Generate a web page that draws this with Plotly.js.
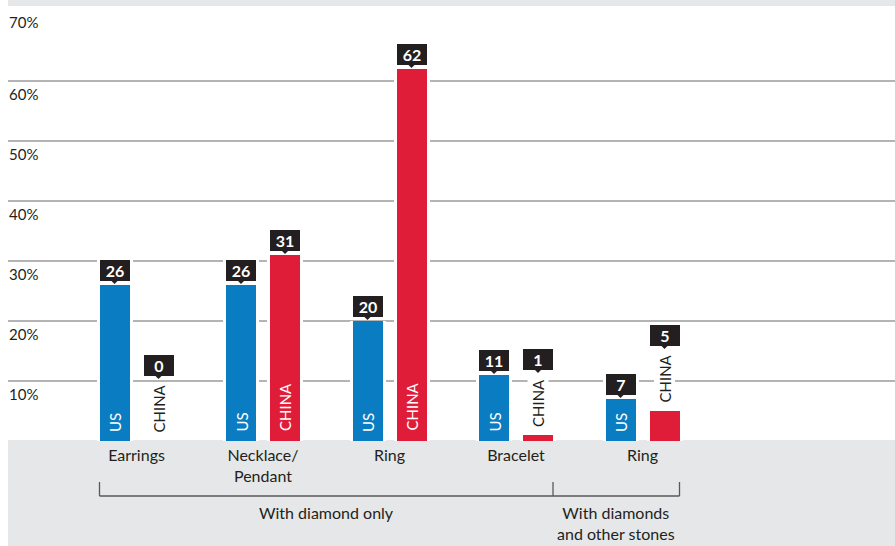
<!DOCTYPE html>
<html>
<head>
<meta charset="utf-8">
<script src="https://cdn.plot.ly/plotly-3.0.1.min.js"></script>
<style>
  html, body { margin: 0; padding: 0; background: #ffffff; }
  #chart { width: 895px; height: 546px; }
</style>
</head>
<body>
<div id="chart"></div>
<script>
// ---- data ----
const categories = ['Earrings', 'Necklace/<br>Pendant', 'Ring', 'Bracelet', 'Ring'];
const usValues = [26, 26, 20, 11, 7];
const chinaValues = [0, 31, 62, 1, 5];
const seriesNames = ['US', 'CHINA'];
const yTickValues = [10, 20, 30, 40, 50, 60, 70];
const yTickLabels = ['10%', '20%', '30%', '40%', '50%', '60%', '70%'];
const groupLabels = ['With diamond only', 'With diamonds<br>and other stones'];
const groupFirst = [0, 4];
const groupLast = [3, 4];

// ---- style / geometry ----
const FONT = 'Lato, "Open Sans", sans-serif';
const DARK = '#231f20';
const BLUE = '#0a7cc2';
const RED = '#e01d38';
const GRAY = '#e6e7e8';
const W = 895, H = 546;
const ML = 8, MT = 0, MB = 105;
const plotH = H - MT - MB;            // 441
const pxPerCat = 126.5;
const barW = 30 / pxPerCat;
const usOff = -37 / pxPerCat;
const cnOff = 7 / pxPerCat;
const gap = 3 / pxPerCat;
const xMin = (ML - 136.5) / pxPerCat;
const xMax = (W - 136.5) / pxPerCat;
const py = p => (plotH - p) / plotH;   // pixel row -> paper y

const xIdx = categories.map((_, i) => i);
const cnInside = chinaValues.map(v => v >= 10);

const traces = [];
// white halos (break the gridlines around bars)
[[usValues, usOff], [chinaValues, cnOff]].forEach(([vals, off]) => {
  traces.push({
    type: 'bar', x: xIdx, y: vals, width: barW + 2 * gap, offset: off - gap,
    marker: { color: '#ffffff', line: { width: 0 } },
    hoverinfo: 'skip', showlegend: false
  });
});
traces.push({
  type: 'bar', name: seriesNames[0], x: xIdx, y: usValues, width: barW, offset: usOff,
  marker: { color: BLUE, line: { width: 0 } }, showlegend: false
});
traces.push({
  type: 'bar', name: seriesNames[1], x: xIdx, y: chinaValues, width: barW, offset: cnOff,
  marker: { color: RED, line: { width: 0 } }, showlegend: false
});

const annotations = [];
const shapes = [];

// bar name labels (rotated)
xIdx.forEach(i => {
  annotations.push({
    x: i + usOff + barW / 2, y: 0, xref: 'x', yref: 'y',
    text: seriesNames[0], showarrow: false, textangle: -90,
    xanchor: 'center', yanchor: 'bottom', yshift: 8, borderpad: 0,
    font: { family: FONT, size: 15, color: '#ffffff' }
  });
  const inside = cnInside[i];
  annotations.push({
    x: i + cnOff + barW / 2, y: inside ? 0 : chinaValues[i], xref: 'x', yref: 'y',
    text: seriesNames[1], showarrow: false, textangle: -90,
    xanchor: 'center', yanchor: 'bottom', yshift: inside ? 8 : 6, borderpad: 1,
    bgcolor: inside ? 'rgba(0,0,0,0)' : '#ffffff',
    font: { family: FONT, size: 15, color: inside ? '#ffffff' : DARK }
  });
});

// value call-out boxes
function addBox(cx, v, lift) {
  annotations.push({
    x: cx, y: v, xref: 'x', yref: 'y', text: '', showarrow: false,
    width: 36, height: 24, xanchor: 'center', yanchor: 'bottom', yshift: 4 + lift,
    bgcolor: '#ffffff', borderpad: 0, borderwidth: 0
  });
  annotations.push({
    x: cx, y: v, xref: 'x', yref: 'y', text: '<b>' + v + '</b>', showarrow: false,
    width: 30, height: 21, xanchor: 'center', yanchor: 'bottom', yshift: 4 + lift,
    bgcolor: DARK, borderpad: 0, borderwidth: 0,
    font: { family: FONT, size: 16, color: '#ffffff' }
  });
  shapes.push({
    type: 'path', xref: 'x', yref: 'y', xsizemode: 'pixel', ysizemode: 'pixel',
    xanchor: cx, yanchor: v, layer: 'above',
    path: 'M -4,' + (5 + lift) + ' L 4,' + (5 + lift) + ' L 0,' + (1 + lift) + ' Z',
    fillcolor: DARK, line: { width: 0 }
  });
}
xIdx.forEach(i => {
  addBox(i + usOff + barW / 2, usValues[i], 0);
  addBox(i + cnOff + barW / 2, chinaValues[i], cnInside[i] ? 0 : 61);
});

// y tick labels (below their gridline; top one at the top)
yTickValues.forEach((v, k) => {
  const top = k === yTickValues.length - 1;
  annotations.push({
    x: 0, y: v, xref: 'paper', yref: 'y', text: yTickLabels[k], showarrow: false,
    xanchor: 'left', yanchor: 'middle', yshift: top ? -1 : -13, borderpad: 0,
    font: { family: FONT, size: 15, color: DARK }
  });
});

// gray bands
shapes.push({ type: 'rect', xref: 'paper', yref: 'paper', x0: 0, x1: 1, y0: py(H), y1: py(440),
  fillcolor: GRAY, line: { width: 0 }, layer: 'below' });
shapes.push({ type: 'rect', xref: 'paper', yref: 'paper', x0: 0, x1: 1, y0: py(6), y1: 1,
  fillcolor: GRAY, line: { width: 0 }, layer: 'below' });

// grouping bracket
const bracketY = py(496), tickTop = py(482);
const edges = [xIdx[groupFirst[0]] + usOff];
groupLast.forEach(i => edges.push(xIdx[i] + cnOff + barW));
const lineStyle = { color: '#58595b', width: 1.3 };
shapes.push({ type: 'line', xref: 'x', yref: 'paper', x0: edges[0], x1: edges[edges.length - 1],
  y0: bracketY, y1: bracketY, line: lineStyle });
edges.forEach(e => shapes.push({ type: 'line', xref: 'x', yref: 'paper', x0: e, x1: e,
  y0: tickTop, y1: bracketY, line: lineStyle }));
groupLabels.forEach((g, k) => {
  annotations.push({
    x: (edges[k] + edges[k + 1]) / 2, y: py(502), xref: 'x', yref: 'paper',
    text: g, showarrow: false, xanchor: 'center', yanchor: 'top', borderpad: 0,
    font: { family: FONT, size: 16, color: DARK }
  });
});

const layout = {
  width: W, height: H,
  margin: { l: ML, r: 0, t: MT, b: MB, pad: 0 },
  paper_bgcolor: '#ffffff', plot_bgcolor: '#ffffff',
  barmode: 'overlay', bargap: 0,
  showlegend: false,
  xaxis: {
    range: [xMin, xMax], tickvals: xIdx, ticktext: categories,
    showgrid: false, zeroline: false, showline: false, ticks: '',
    ticklabelstandoff: 3,
    tickfont: { family: FONT, size: 16, color: DARK }, fixedrange: true
  },
  yaxis: {
    range: [0, plotH / 6], tickvals: yTickValues.slice(0, -1),
    showticklabels: false, showgrid: true, gridcolor: '#b4b4b4', gridwidth: 1.2,
    zeroline: false, showline: false, ticks: '', fixedrange: true
  },
  annotations: annotations,
  shapes: shapes
};

Plotly.newPlot('chart', traces, layout, { displayModeBar: false, staticPlot: true });
</script>
</body>
</html>
